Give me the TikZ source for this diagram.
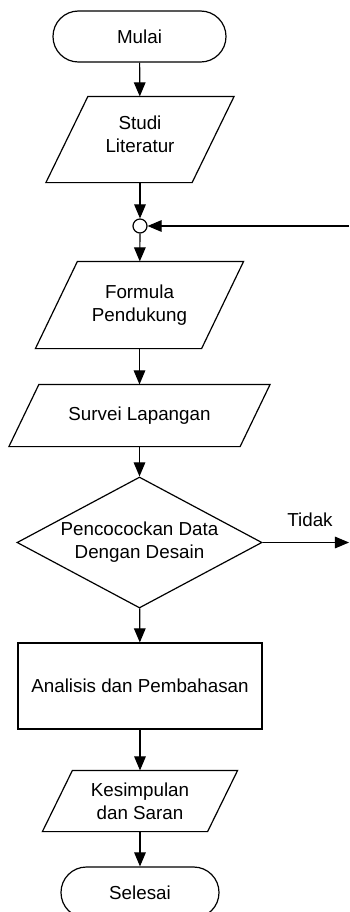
\documentclass[tikz,border=0pt]{standalone}
\usepackage{fontspec}
\setmainfont{Liberation Sans}
\usepackage{tikz}
\usetikzlibrary{shapes.geometric, arrows}
\tikzstyle{startstop} = [rectangle, rounded corners=12.7pt, minimum height=25.5pt, draw, inner sep=0pt]
\tikzstyle{io} = [rectangle, align=center, inner sep=0pt]
\tikzstyle{process} = [rectangle, minimum width=122pt, minimum height=43pt, draw, align=center]
\tikzstyle{decision} = [diamond, shape aspect=1.87, minimum width=122.5pt, minimum height=65.5pt, inner sep=0pt, draw, align=center]
\tikzstyle{joint} = [circle, minimum size=7pt, inner sep=0pt, draw, fill=white]
\tikzstyle{arrow} = [->,>=triangle 45]
\newcommand{\slantbox}[2]{\draw ([xshift=-#2]#1.south west) -- ([xshift=-#2]#1.south east) -- ([xshift=#2]#1.north east) -- ([xshift=#2]#1.north west) -- cycle;}

\begin{document}
\begin{tikzpicture}[x=0.5pt,y=-0.5pt,line width=0.6pt,font=\fontsize{9.4pt}{11.5pt}\selectfont]
\useasboundingbox (0,0) rectangle (349,912);

\node (mulai) [startstop, minimum width=86.5pt] at (139.5,36.5) {Mulai};
\node (studi) [io, minimum width=72.5pt, minimum height=42.5pt] at (140,139.5) {Studi\\Literatur\\[-6pt]};
\node (merge) [joint] at (140,226) {};
\node (formula) [io, minimum width=82.5pt, minimum height=43pt] at (139.5,305) {Formula\\Pendukung};
\node (survei) [io, minimum width=115pt, minimum height=30.5pt] at (139.5,415.5) {Survei Lapangan};
\node (cocok) [decision] at (139.5,542.5) {Pencocockan Data\\Dengan Desain};
\node (analisis) [process] at (140,686) {Analisis dan Pembahasan};
\node (simpul) [io, minimum width=82pt, minimum height=30pt] at (140,801) {Kesimpulan\\dan Saran};
\node (selesai) [startstop, minimum width=79pt] at (140,892.5) {Selesai};

\slantbox{studi}{10.5pt}
\slantbox{formula}{10.5pt}
\slantbox{survei}{7.5pt}
\slantbox{simpul}{7.5pt}

\coordinate (balik) at (349,226);
\coordinate (tidak) at (349,542.5);
\node (lbltidak) at (310,520) {Tidak};

\draw [arrow] (mulai) -- (studi);
\draw [arrow] (studi) -- (merge);
\draw [arrow] (balik) -- (merge);
\draw [arrow] (merge) -- (formula);
\draw [arrow] (formula) -- (survei);
\draw [arrow] (survei) -- (cocok);
\draw [arrow] (cocok) -- (tidak);
\draw [arrow] (cocok) -- (analisis);
\draw [arrow] (analisis) -- (simpul);
\draw [arrow] (simpul) -- (selesai);

\end{tikzpicture}
\end{document}
